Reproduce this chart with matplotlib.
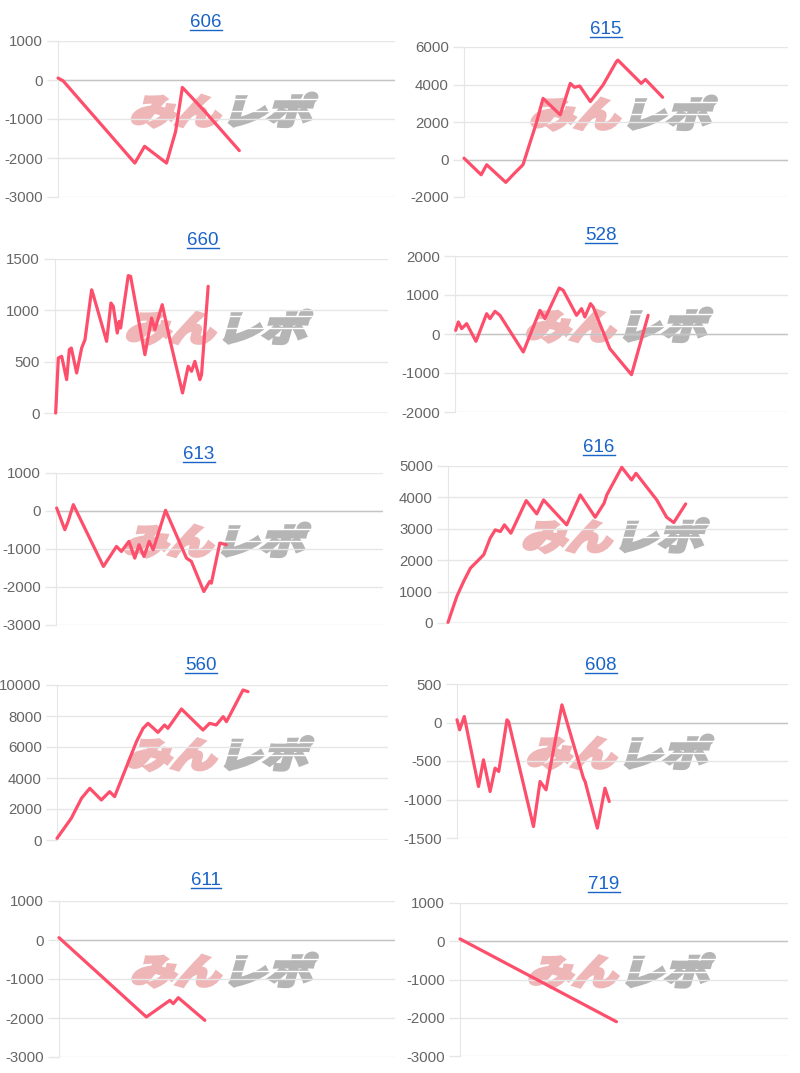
import matplotlib
matplotlib.use("Agg")
import matplotlib.pyplot as plt
from matplotlib.textpath import TextPath
from matplotlib.patches import PathPatch
from matplotlib.font_manager import FontProperties
from matplotlib.transforms import Affine2D, IdentityTransform
from matplotlib.lines import Line2D

# ---- data: (x as % of plot width, value) ----
titles = ["606", "615", "660", "528", "613", "616", "560", "608", "611", "719"]

x606 = [0, 1.5, 22.8, 25.7, 32.2, 34.9, 36.9, 38.1, 43.5, 53.8]
y606 = [50, -20, -2130, -1700, -2130, -1320, -190, -300, -800, -1810]

x615 = [0, 5.3, 7.0, 12.9, 15.6, 18.2, 22.3, 24.4, 29.7, 32.8, 34.1, 35.7, 39.0, 42.9, 47.0, 47.5, 54.7, 56.0, 61.3]
y615 = [70, -815, -280, -1220, -730, -280, 1930, 3260, 2380, 4060, 3850, 3920, 3090, 3970, 5210, 5300, 4060, 4270, 3320]

x660 = [0.2, 1.0, 2.0, 3.5, 4.3, 4.9, 6.5, 8.0, 9.0, 11.0, 11.5, 15.5, 16.8, 17.5, 18.7, 19.3, 19.7,
        22.0, 22.7, 27.0, 29.0, 30.0, 32.2, 34.5, 38.3, 40.0, 41.0, 42.0, 43.5, 44.0, 46.0]
y660 = [0, 536, 552, 325, 617, 633, 390, 633, 714, 1200, 1150, 698, 1071, 1039, 779, 893, 828,
        1338, 1331, 568, 925, 812, 1055, 714, 195, 455, 406, 503, 325, 373, 1234]

x528 = [0.2, 1.0, 2.0, 3.5, 6.3, 9.5, 10.5, 12.0, 13.5, 20.5, 25.5, 27.0, 31.3, 32.5, 36.5, 38.0, 39.0, 40.7, 41.5, 46.5, 53.0, 58.0]
y528 = [94, 308, 137, 265, -188, 521, 393, 581, 479, -462, 607, 393, 1180, 1120, 479, 650, 436, 778, 692, -376, -1043, 479]

x613 = [0.2, 2.7, 3.7, 5.3, 14.5, 18.5, 20.0, 22.3, 24.1, 25.4, 26.9, 28.5, 29.7, 33.5, 39.9, 41.4, 45.2, 47.0, 47.5, 50.1, 52.1]
y613 = [79, -492, -273, 167, -1459, -932, -1064, -800, -1240, -888, -1196, -800, -1020, 18, -1240, -1327, -2119, -1855, -1900, -844, -888]

x616 = [0, 2.6, 4.6, 6.6, 10.5, 12.4, 13.9, 15.4, 16.6, 18.5, 23.0, 26.1, 28.1, 34.9, 38.9, 43.3, 45.9, 46.7, 51.1, 54.0, 55.3, 61.4, 64.3, 66.4, 69.9]
y616 = [21, 847, 1324, 1748, 2172, 2701, 2966, 2913, 3125, 2860, 3898, 3475, 3919, 3125, 4078, 3369, 3814, 4078, 4958, 4555, 4767, 3919, 3369, 3199, 3792]

x560 = [0, 4.3, 7.4, 9.9, 13.4, 15.9, 17.4, 19.4, 24.0, 26.0, 27.5, 30.5, 32.5, 33.5, 37.6, 44.1, 46.1, 48.1, 50.2, 51.2, 56.2, 57.7]
y560 = [108, 1398, 2688, 3333, 2581, 3118, 2796, 3871, 6344, 7204, 7527, 6946, 7419, 7204, 8452, 7097, 7527, 7419, 7957, 7634, 9677, 9570]

x608 = [0, 0.8, 2.2, 6.5, 8.0, 10.0, 11.5, 12.6, 13.6, 15.1, 15.6, 23.1, 25.1, 26.9, 31.7, 38.2, 38.7, 42.4, 44.7, 46.0]
y608 = [35, -95, 78, -831, -485, -896, -593, -636, -377, 35, 10, -1351, -766, -874, 229, -723, -766, -1372, -853, -1026]

x611 = [0, 26.0, 33.0, 34.0, 35.5, 43.4]
y611 = [60, -1974, -1547, -1632, -1479, -2060]

x719 = [0, 47.7]
y719 = [61, -2104]

xs = [x606, x615, x660, x528, x613, x616, x560, x608, x611, x719]
ys = [y606, y615, y660, y528, y613, y616, y560, y608, y611, y719]

# y-axis range and tick step per chart
y_ranges = [(-3000, 1000, 1000), (-2000, 6000, 2000), (0, 1500, 500), (-2000, 2000, 1000),
            (-3000, 1000, 1000), (0, 5000, 1000), (0, 10000, 2000), (-1500, 500, 500),
            (-3000, 1000, 1000), (-3000, 1000, 1000)]

# ---- layout (pixels: left, top, right, bottom) and title centres ----
W, H = 800, 1073
boxes = [(58, 41, 395, 197), (464, 47, 788, 197),
         (55, 259, 388, 413), (455, 256, 788, 412),
         (56, 473, 383, 625), (448, 466, 788, 623),
         (57, 685, 388, 840), (457, 684, 788, 838),
         (59, 901, 395, 1057), (460, 903, 788, 1056)]
title_pos = [(206, 20), (606, 27), (203, 238), (601, 233), (199, 452),
             (599, 445), (201, 663), (601, 663), (206, 878), (604, 882)]

LINE = "#fd4f6c"
GRID = "#e6e6e6"
ZERO = "#c4c4c4"
TICK = "#666666"
LINK = "#1a64c8"

plt.rcParams["font.family"] = ["Liberation Sans", "DejaVu Sans"]
plt.rcParams["axes.unicode_minus"] = False

fig = plt.figure(figsize=(W / 100, H / 100), dpi=100)
fig.patch.set_facecolor("white")

jp = FontProperties(family="Noto Sans CJK JP", weight="bold")


def watermark(cx, cy):
    # stylised "みんレポ" logo behind the plots
    left = TextPath((0, 0), "みん", size=45, prop=jp)
    right = TextPath((0, 0), "レポ", size=45, prop=jp)
    lw_ = left.get_extents().width
    rw_ = right.get_extents().width
    gap = 6
    total = lw_ + gap + rw_
    x0 = cx - total / 2 - 12
    y0 = H - cy - 16
    tr = Affine2D().scale(1.0, 0.78).skew_deg(16, 0).translate(x0, y0)
    fig.add_artist(PathPatch(left, transform=tr, facecolor="#efb6b8", edgecolor="#efb6b8",
                             lw=3.0, joinstyle="miter", zorder=-1))
    tr2 = Affine2D().scale(1.0, 0.78).skew_deg(16, 0).translate(x0 + lw_ + gap, y0)
    fig.add_artist(PathPatch(right, transform=tr2, facecolor="#b5b5b5", edgecolor="#b5b5b5",
                             lw=3.0, joinstyle="miter", zorder=-1))
    # speed streaks cut through the grey half
    xa = x0 + lw_ + gap
    for k, yy in enumerate([0.35, 0.7]):
        ys_ = y0 + yy * 36
        fig.add_artist(Line2D([xa + 10 * k, xa + rw_ + 30], [ys_, ys_], transform=IdentityTransform(),
                              color="white", lw=1.0, zorder=-0.5))


titles_artists = []
for i in range(10):
    l, t, r, b = boxes[i]
    ax = fig.add_axes([l / W, 1 - b / H, (r - l) / W, (b - t) / H])
    ax.set_facecolor("none")
    lo, hi, step = y_ranges[i]
    ax.set_ylim(lo, hi)
    ax.set_xlim(0, 100)
    ax.set_yticks(range(lo, hi + 1, step))
    ax.set_xticks([])
    for s in ["top", "right", "bottom"]:
        ax.spines[s].set_visible(False)
    ax.spines["left"].set_color(GRID)
    ax.yaxis.grid(True, color=GRID, lw=1)
    ax.set_axisbelow(True)
    if lo <= 0 <= hi:
        ax.axhline(0, color=ZERO, lw=1, zorder=1)
    ax.tick_params(axis="y", length=8, width=1, color=GRID, labelcolor=TICK,
                   labelsize=10.8, pad=3)
    ax.plot(xs[i], ys[i], color=LINE, lw=2.3, solid_joinstyle="round",
            solid_capstyle="round", zorder=3, clip_on=False)

    watermark((l + r) / 2, (t + b) / 2 - 11)

    tx, ty = title_pos[i]
    txt = fig.text(tx / W, 1 - (ty + 7) / H, titles[i], color=LINK, fontsize=13.5,
                   ha="center", va="baseline")
    titles_artists.append((txt, ty + 7))

# underline the link-style titles
fig.canvas.draw()
renderer = fig.canvas.get_renderer()
for txt, base in titles_artists:
    bb = txt.get_window_extent(renderer)
    yl = H - base - 2.5
    fig.add_artist(Line2D([bb.x0, bb.x1], [yl, yl], transform=IdentityTransform(),
                          color=LINK, lw=1.0))

fig.savefig("out.png", dpi=100)
